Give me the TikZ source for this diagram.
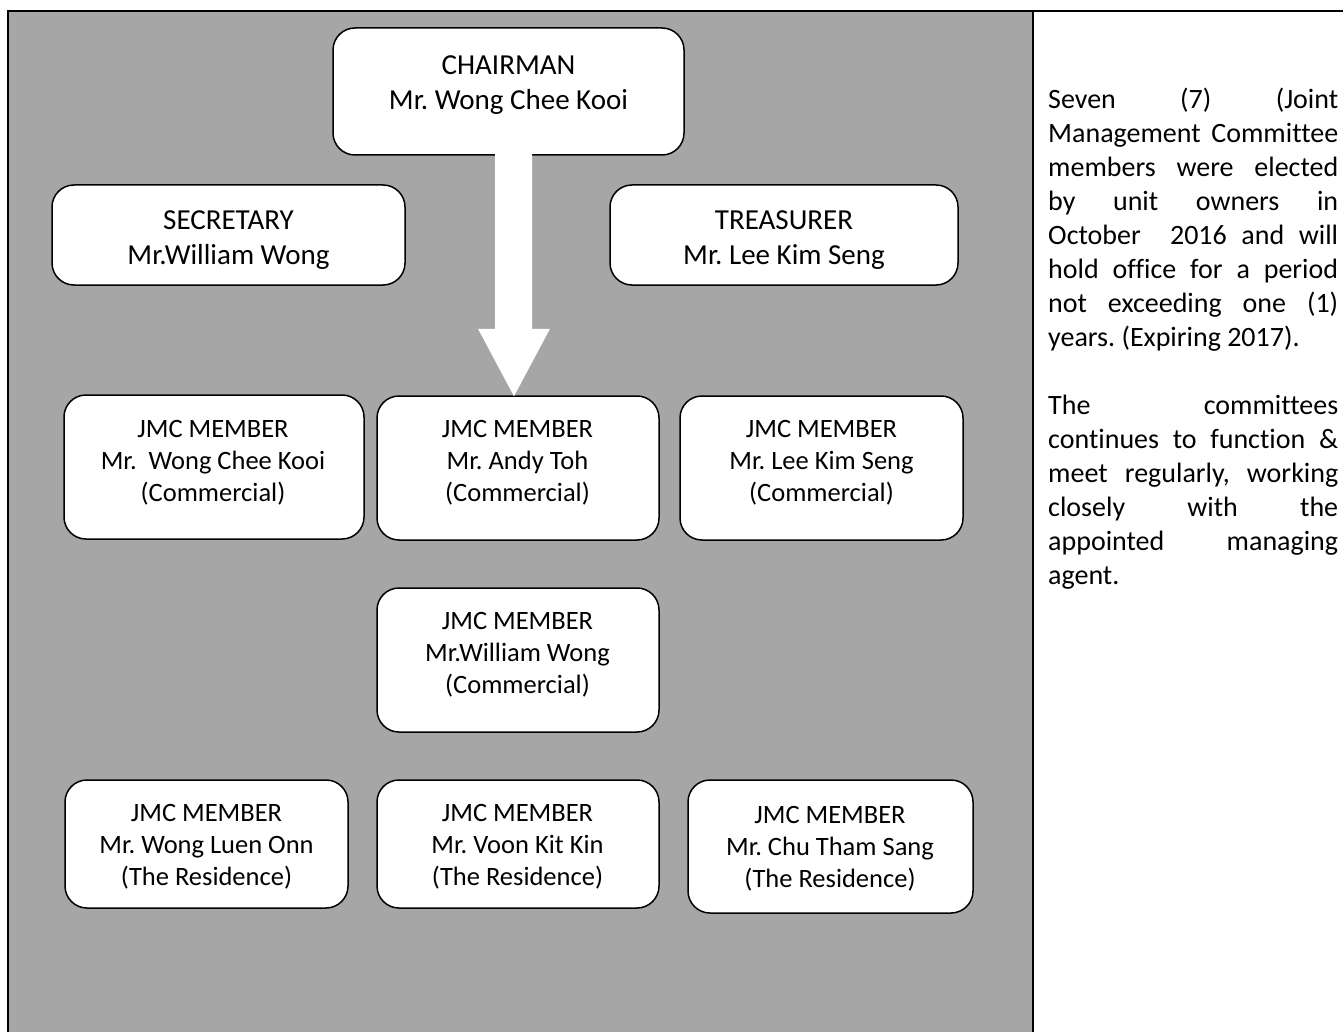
\documentclass[tikz,border=0pt]{standalone}
\usepackage{fontspec}
\setmainfont{Carlito}[Ligatures={NoCommon}]
\usetikzlibrary{calc}
\definecolor{panelgray}{RGB}{166,166,166}
\frenchspacing
\begin{document}
\begin{tikzpicture}[x=1pt,y=-1pt,
  box/.style={draw=black, line width=1.5pt, fill=white, rounded corners=22pt, inner sep=0pt},
  bigtxt/.style={anchor=north, inner sep=0pt, align=center, font=\fontsize{29}{35}\selectfont},
  smalltxt/.style={anchor=north, inner sep=0pt, align=center, font=\fontsize{26.5}{32}\selectfont},
  notetxt/.style={anchor=north west, inner sep=0pt, align=left, font=\fontsize{28}{34}\selectfont},
  frame/.style={draw=black, line width=2pt}
]
\useasboundingbox (0,0) rectangle (1343,1032);
% panel and frame
\fill[panelgray] (8,11) rectangle (1033,1032);
\draw[frame] (8,1032) -- (8,11) -- (1343,11);
\draw[frame] (1033,11) -- (1033,1032);

% chairman
\node[box, minimum width=351pt, minimum height=127pt] (chair) at (508.5,91.5) {};
\node[bigtxt] (chairT) at (508.5,55.5) {CHAIRMAN\\Mr. Wong Chee Kooi};

% secretary & treasurer
\node[box, minimum width=353pt, minimum height=100pt] (sec) at (228.5,235) {};
\node[bigtxt] (secT) at (228.5,210.5) {SECRETARY\\Mr.William Wong};
\node[box, minimum width=348pt, minimum height=100pt] (tre) at (784,235) {};
\node[bigtxt] (treT) at (784,210.5) {TREASURER\\Mr. Lee Kim Seng};

% row 2
\node[box, minimum width=300pt, minimum height=144pt] (ma) at (214,467) {};
\node[smalltxt] (maT) at (213,420) {JMC MEMBER\\Mr.\ \ Wong Chee Kooi\\(Commercial)};
\node[box, minimum width=282pt, minimum height=144pt] (mb) at (518,468) {};
\node[smalltxt] (mbT) at (517.5,420) {JMC MEMBER\\Mr. Andy Toh\\(Commercial)};
\node[box, minimum width=283pt, minimum height=144pt] (mc) at (821.5,468) {};
\node[smalltxt] (mcT) at (821.5,420) {JMC MEMBER\\Mr. Lee Kim Seng\\(Commercial)};

% row 3
\node[box, minimum width=282pt, minimum height=144pt] (md) at (518,660) {};
\node[smalltxt] (mdT) at (517.5,612) {JMC MEMBER\\Mr.William Wong\\(Commercial)};

% row 4
\node[box, minimum width=283pt, minimum height=128pt] (ra) at (206.5,844) {};
\node[smalltxt] (raT) at (206.5,804) {JMC MEMBER\\Mr. Wong Luen Onn\\(The Residence)};
\node[box, minimum width=282pt, minimum height=128pt] (rb) at (518,844) {};
\node[smalltxt] (rbT) at (517.5,804) {JMC MEMBER\\Mr. Voon Kit Kin\\(The Residence)};
\node[box, minimum width=285pt, minimum height=133pt] (rc) at (830.5,846.5) {};
\node[smalltxt] (rcT) at (830,806) {JMC MEMBER\\Mr. Chu Tham Sang\\(The Residence)};

% block arrow from chairman to Andy Toh
\coordinate (aT) at ($(chair.south)+(5,-2)$);
\coordinate (aP) at ($(mb.north)+(-4,1)$);
\fill[white] ($(aT)+(-18.5,0)$) -- ($(aT)+(18.5,0)$) -- ($(aT)+(18.5,175)$)
  -- ($(aT)+(36.5,175)$) -- (aP) -- ($(aT)+(-35.5,175)$) -- ($(aT)+(-18.5,175)$) -- cycle;

% note
\node[notetxt] (note) at (1048,83) {%
\rule{0pt}{25pt}\makebox[290pt][s]{Seven (7) (Joint}\\
\makebox[290pt][s]{Management Committee}\\
\makebox[290pt][s]{members were elected}\\
\makebox[290pt][s]{by unit owners in}\\
\makebox[290pt][s]{October\ \ 2016 and will}\\
\makebox[290pt][s]{hold office for a period}\\
\makebox[290pt][s]{not exceeding one (1)}\\
years. (Expiring 2017).\\[34pt]
\makebox[290pt][s]{The committees}\\
\makebox[290pt][s]{continues to function \&}\\
\makebox[290pt][s]{meet regularly, working}\\
\makebox[290pt][s]{closely with the}\\
\makebox[290pt][s]{appointed managing}\\
agent.};
\end{tikzpicture}
\end{document}
